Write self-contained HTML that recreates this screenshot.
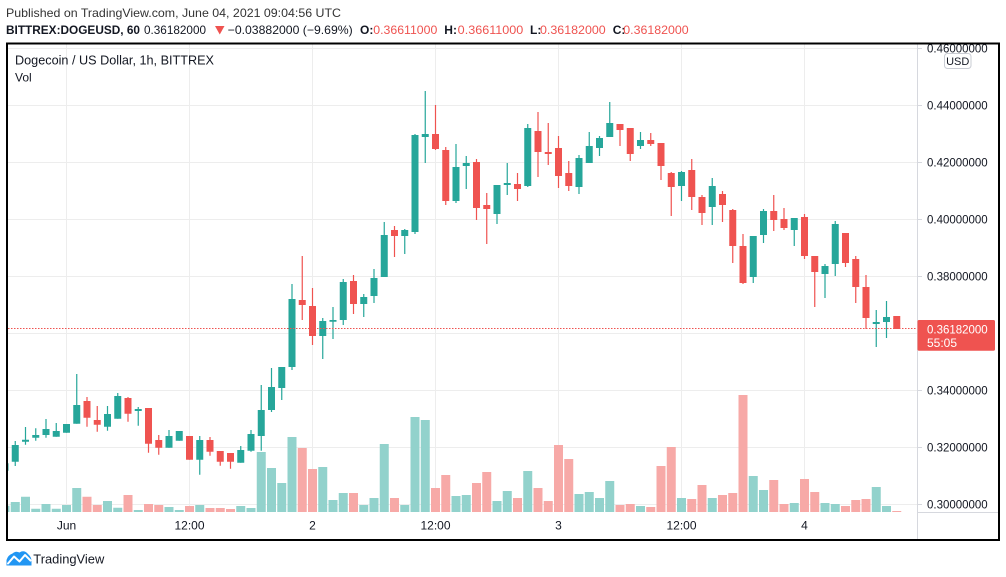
<!DOCTYPE html>
<html>
<head>
<meta charset="utf-8">
<style>
html,body{margin:0;padding:0;background:#fff;}
svg{display:block;}
text{font-family:"Liberation Sans",sans-serif;}
</style>
</head>
<body>
<svg width="1006" height="577" viewBox="0 0 1006 577" xmlns="http://www.w3.org/2000/svg">
<defs>
<clipPath id="pane"><rect x="8" y="44.5" width="909" height="467.5"/></clipPath>
</defs>
<rect width="1006" height="577" fill="#fff"/>

<!-- Header -->
<text x="6" y="17" font-size="12" fill="#333" textLength="335" lengthAdjust="spacingAndGlyphs">Published on TradingView.com, June 04, 2021 09:04:56 UTC</text>
<text x="6" y="34" font-size="12" font-weight="bold" fill="#131722" textLength="134" lengthAdjust="spacingAndGlyphs">BITTREX:DOGEUSD, 60</text>
<text x="144" y="34" font-size="12" fill="#131722" textLength="62" lengthAdjust="spacingAndGlyphs">0.36182000</text>
<polygon points="215,26 224.5,26 219.75,34.5" fill="#ef5350"/>
<text x="227.7" y="34" font-size="12" fill="#131722" textLength="125" lengthAdjust="spacingAndGlyphs">−0.03882000 (−9.69%)</text>
<text x="360" y="34" font-size="12" font-weight="bold" fill="#131722">O:</text>
<text x="373.3" y="34" font-size="12" fill="#ef5350" textLength="64" lengthAdjust="spacingAndGlyphs">0.36611000</text>
<text x="444.3" y="34" font-size="12" font-weight="bold" fill="#131722">H:</text>
<text x="457.7" y="34" font-size="12" fill="#ef5350" textLength="65.6" lengthAdjust="spacingAndGlyphs">0.36611000</text>
<text x="530" y="34" font-size="12" font-weight="bold" fill="#131722">L:</text>
<text x="540" y="34" font-size="12" fill="#ef5350" textLength="65.7" lengthAdjust="spacingAndGlyphs">0.36182000</text>
<text x="612.7" y="34" font-size="12" font-weight="bold" fill="#131722">C:</text>
<text x="623.3" y="34" font-size="12" fill="#ef5350" textLength="65.4" lengthAdjust="spacingAndGlyphs">0.36182000</text>

<!-- Grid -->
<g stroke="#ededed" stroke-width="1">
<path d="M8 105.5H917M8 162.5H917M8 219.5H917M8 276.5H917M8 333.5H917M8 390.5H917M8 447.5H917M8 504.5H917M8 48.5H917"/>
<path d="M66.5 44V512M189.5 44V512M312.5 44V512M435.5 44V512M558.5 44V512M681.5 44V512M804.5 44V512"/>
</g>
<!-- axis ticks -->
<g stroke="#d6d8de" stroke-width="1">
<path d="M917 48.5H922M917 105.5H922M917 162.5H922M917 219.5H922M917 276.5H922M917 390.5H922M917 447.5H922M917 504.5H922"/>
<path d="M917.5 44V540M917 512.5H999"/>
</g>

<g clip-path="url(#pane)">
<!-- Volume green -->
<path fill="#92d2cc" d="M0.5 505.7h9V512h-9ZM10.75 502h9V512h-9ZM21 496.7h9V512h-9ZM31.25 508.7h9V512h-9ZM41.5 504h9V512h-9ZM51.75 508.7h9V512h-9ZM62 505h9V512h-9ZM72.25 488h9V512h-9ZM103 501h9V512h-9ZM113.25 507.7h9V512h-9ZM133.75 510h9V512h-9ZM164.5 507h9V512h-9ZM174.75 510h9V512h-9ZM195.25 505h9V512h-9ZM236.25 506h9V512h-9ZM246.5 508h9V512h-9ZM256.75 452h9V512h-9ZM267 468h9V512h-9ZM277.25 483h9V512h-9ZM287.5 437h9V512h-9ZM318.25 467h9V512h-9ZM328.5 500h9V512h-9ZM338.75 493h9V512h-9ZM359.25 505h9V512h-9ZM369.5 498h9V512h-9ZM379.75 444h9V512h-9ZM400.25 505h9V512h-9ZM410.5 417h9V512h-9ZM420.75 420h9V512h-9ZM451.5 496h9V512h-9ZM461.75 495h9V512h-9ZM492.5 501h9V512h-9ZM502.75 491h9V512h-9ZM523.25 471h9V512h-9ZM574.5 494h9V512h-9ZM584.75 492h9V512h-9ZM595 498h9V512h-9ZM605.25 481h9V512h-9ZM636 506h9V512h-9ZM677 498h9V512h-9ZM707.75 498h9V512h-9ZM748.75 476h9V512h-9ZM759 490h9V512h-9ZM789.75 503h9V512h-9ZM820.5 503h9V512h-9ZM830.75 504h9V512h-9ZM871.75 487h9V512h-9ZM882 506h9V512h-9Z"/>
<!-- Volume red -->
<path fill="#f7a9a7" d="M82.5 496.7h9V512h-9ZM92.75 505h9V512h-9ZM123.5 495h9V512h-9ZM144 504h9V512h-9ZM154.25 505h9V512h-9ZM185 506h9V512h-9ZM205.5 508h9V512h-9ZM215.75 508h9V512h-9ZM226 509h9V512h-9ZM297.75 448h9V512h-9ZM308 469h9V512h-9ZM349 493h9V512h-9ZM390 498h9V512h-9ZM431 488h9V512h-9ZM441.25 475h9V512h-9ZM472 483h9V512h-9ZM482.25 472h9V512h-9ZM513 498h9V512h-9ZM533.5 488h9V512h-9ZM543.75 501h9V512h-9ZM554 445h9V512h-9ZM564.25 459h9V512h-9ZM615.5 505h9V512h-9ZM625.75 504h9V512h-9ZM646.25 507h9V512h-9ZM656.5 466h9V512h-9ZM666.75 447h9V512h-9ZM687.25 499h9V512h-9ZM697.5 485h9V512h-9ZM718 495h9V512h-9ZM728.25 493h9V512h-9ZM738.5 395h9V512h-9ZM769.25 480h9V512h-9ZM779.5 504h9V512h-9ZM800 479h9V512h-9ZM810.25 492h9V512h-9ZM841 506h9V512h-9ZM851.25 500h9V512h-9ZM861.5 499h9V512h-9ZM892.25 511h9V512h-9Z"/>

<!-- Green wicks -->
<path stroke="#26a69a" stroke-width="1.2" fill="none" d="M5 463.3V470.7M15.25 441V466M25.5 427V444.7M35.75 428.3V440.7M46 419V437.7M56.25 423V436.7M66.5 424V432.7M76.75 374V423.7M107.5 406V430.7M117.75 393V418.7M138.25 407V425.7M169 430V447.7M179.25 431V440.7M199.75 436V474.7M240.75 446V462.7M251 430V451.7M261.25 385V450.7M271.5 368V412M281.75 367V400M292 284V370M322.75 318V359M333 307V339M343.25 279V325M363.75 294V317M374 269V303M384.25 222V277M404.75 229V254M415 134V234M425.25 91V163M456 144V203M466.25 156V189M497 185V224M507.25 163V195M527.75 124V187M579 155V194M589.25 132V163M599.5 136V156M609.75 102V137M640.5 132V149M681.5 171V201M712.25 178V225M753.25 236V283M763.5 209V243M794.25 218V246M825 264V298M835.25 221V276M876.25 310V347M886.5 301V338"/>
<!-- Green bodies -->
<path fill="#26a69a" d="M1.5 463.3h7V470.7h-7ZM11.75 445h7V461.7h-7ZM22 439.7h7V441.7h-7ZM32.25 435h7V437.7h-7ZM42.5 429h7V435h-7ZM52.75 431h7V436.7h-7ZM63 424h7V432.7h-7ZM73.25 405h7V423.7h-7ZM104 414h7V426.7h-7ZM114.25 396h7V418.7h-7ZM134.75 409h7V411h-7ZM165.5 436h7V447.7h-7ZM175.75 431h7V440.7h-7ZM196.25 440h7V459.7h-7ZM237.25 450h7V462.7h-7ZM247.5 434h7V450.7h-7ZM257.75 410h7V436h-7ZM268 387h7V410h-7ZM278.25 367h7V388h-7ZM288.5 299h7V367h-7ZM319.25 321h7V336h-7ZM329.5 320h7V321.7h-7ZM339.75 282h7V320h-7ZM360.25 297h7V304h-7ZM370.5 278h7V296h-7ZM380.75 235h7V277h-7ZM401.25 230h7V236h-7ZM411.5 135h7V232h-7ZM421.75 134h7V137h-7ZM452.5 167h7V201h-7ZM462.75 163h7V166h-7ZM493.5 185h7V214h-7ZM503.75 183h7V185h-7ZM524.25 128h7V186h-7ZM575.5 158h7V187h-7ZM585.75 146h7V163h-7ZM596 138h7V148h-7ZM606.25 123h7V137h-7ZM637 140h7V146h-7ZM678 172h7V186h-7ZM708.75 186h7V207h-7ZM749.75 236h7V277h-7ZM760 211h7V235h-7ZM790.75 218h7V230h-7ZM821.5 266h7V274h-7ZM831.75 224h7V264h-7ZM872.75 322h7V324h-7ZM883 317h7V322h-7Z"/>

<!-- Red wicks -->
<path stroke="#ef5350" stroke-width="1.2" fill="none" d="M87 397V426.7M97.25 406V431.7M128 397V421.7M148.5 408V452.7M158.75 435V454.7M189.5 436V459.7M210 437V455.7M220.25 451V465.7M230.5 453V468.7M302.25 256V320M312.5 288V345M353.5 275V314M394.5 226V257M435.5 105V150M445.75 147V205M476.5 159V220M486.75 193V244M517.5 173V201M538 112V177M548.25 123V165M558.5 136V188M568.75 161V191M620 124V146M630.25 128V161M650.75 133V146M661 143V180M671.25 172V216M691.75 159V210M702 195V225M722.5 191V222M732.75 209V263M743 234V284M773.75 195V231M784 208V230M804.5 214V259M814.75 256V307M845.5 233V267M855.75 256V303M866 275V329"/>
<!-- Red bodies -->
<path fill="#ef5350" d="M83.5 401h7V417.7h-7ZM93.75 420h7V424.7h-7ZM124.5 398h7V413.7h-7ZM145 408h7V443.7h-7ZM155.25 440h7V447.7h-7ZM186 436h7V459.7h-7ZM206.5 440h7V451.7h-7ZM216.75 451h7V461.7h-7ZM227 453h7V461.7h-7ZM298.75 300h7V305h-7ZM309 306h7V336h-7ZM350 281h7V304h-7ZM391 230h7V236h-7ZM432 134h7V149h-7ZM442.25 150h7V201h-7ZM473 162h7V208h-7ZM483.25 205h7V209h-7ZM514 184h7V189h-7ZM534.5 131h7V152h-7ZM544.75 152h7V154h-7ZM555 148h7V176h-7ZM565.25 173h7V186h-7ZM616.5 124h7V130h-7ZM626.75 128h7V154h-7ZM647.25 140h7V144h-7ZM657.5 143h7V166h-7ZM667.75 173h7V187h-7ZM688.25 170h7V197h-7ZM698.5 197h7V213h-7ZM719 194h7V205h-7ZM729.25 210h7V246h-7ZM739.5 246h7V283h-7ZM770.25 211h7V220h-7ZM780.5 219h7V228h-7ZM801 217h7V256h-7ZM811.25 256h7V272h-7ZM842 233h7V263h-7ZM852.25 259h7V287h-7ZM862.5 287h7V318h-7ZM893.25 316h7V329h-7Z"/>

<!-- current price dotted line -->
<path d="M8 328.5H917" stroke="#ef5350" stroke-width="1" stroke-dasharray="1.5 1.5"/>
</g>

<!-- Legend -->
<text x="15" y="64.5" font-size="12.5" fill="#131722" textLength="199" lengthAdjust="spacingAndGlyphs">Dogecoin / US Dollar, 1h, BITTREX</text>
<text x="15" y="81.5" font-size="12" fill="#131722">Vol</text>

<!-- Price axis labels -->
<g font-size="12" fill="#131722">
<text x="927" y="52.3" textLength="60.7" lengthAdjust="spacingAndGlyphs">0.46000000</text>
<text x="927" y="109.5" textLength="60.7" lengthAdjust="spacingAndGlyphs">0.44000000</text>
<text x="927" y="166.5" textLength="60.7" lengthAdjust="spacingAndGlyphs">0.42000000</text>
<text x="927" y="223.5" textLength="60.7" lengthAdjust="spacingAndGlyphs">0.40000000</text>
<text x="927" y="280.5" textLength="60.7" lengthAdjust="spacingAndGlyphs">0.38000000</text>
<text x="927" y="394.5" textLength="60.7" lengthAdjust="spacingAndGlyphs">0.34000000</text>
<text x="927" y="451.5" textLength="60.7" lengthAdjust="spacingAndGlyphs">0.32000000</text>
<text x="927" y="508.5" textLength="60.7" lengthAdjust="spacingAndGlyphs">0.30000000</text>
</g>

<!-- current price label -->
<rect x="917.5" y="320" width="77.5" height="30.7" rx="1.5" fill="#ef5350"/>
<text x="927" y="333.3" font-size="12" fill="#fff" textLength="60.7" lengthAdjust="spacingAndGlyphs">0.36182000</text>
<text x="927" y="347" font-size="12" fill="#fff">55:05</text>

<!-- Time axis labels -->
<g font-size="12" fill="#131722" text-anchor="middle">
<text x="66.5" y="529.5">Jun</text>
<text x="189.5" y="529.5">12:00</text>
<text x="312.5" y="529.5">2</text>
<text x="435.5" y="529.5">12:00</text>
<text x="558.5" y="529.5">3</text>
<text x="681.5" y="529.5">12:00</text>
<text x="804.5" y="529.5">4</text>
</g>

<!-- Frame -->
<rect x="7" y="43.5" width="992" height="496.5" fill="none" stroke="#000" stroke-width="2"/>

<!-- USD badge -->
<rect x="944.5" y="53.5" width="26.5" height="15" rx="3" fill="#fff" stroke="#c9ccd3" stroke-width="1"/>
<text x="957.7" y="65" font-size="11" fill="#131722" text-anchor="middle">USD</text>

<!-- TradingView logo -->
<path d="M6.5 565.5 L6.5 560 Q8 555 12.5 553.5 Q15.5 550.5 19.5 552.5 Q24 549.5 28 554 Q31.5 557 31.5 561 L31.5 565.5 Z" fill="#2196f3"/>
<polyline points="8,563.5 14,556.5 19.5,561.5 25,555 30.5,560.5" fill="none" stroke="#fff" stroke-width="2" stroke-linejoin="round" stroke-linecap="round"/>
<text x="33.3" y="563.5" font-size="13" fill="#131722" textLength="71" lengthAdjust="spacingAndGlyphs">TradingView</text>
</svg>
</body>
</html>
